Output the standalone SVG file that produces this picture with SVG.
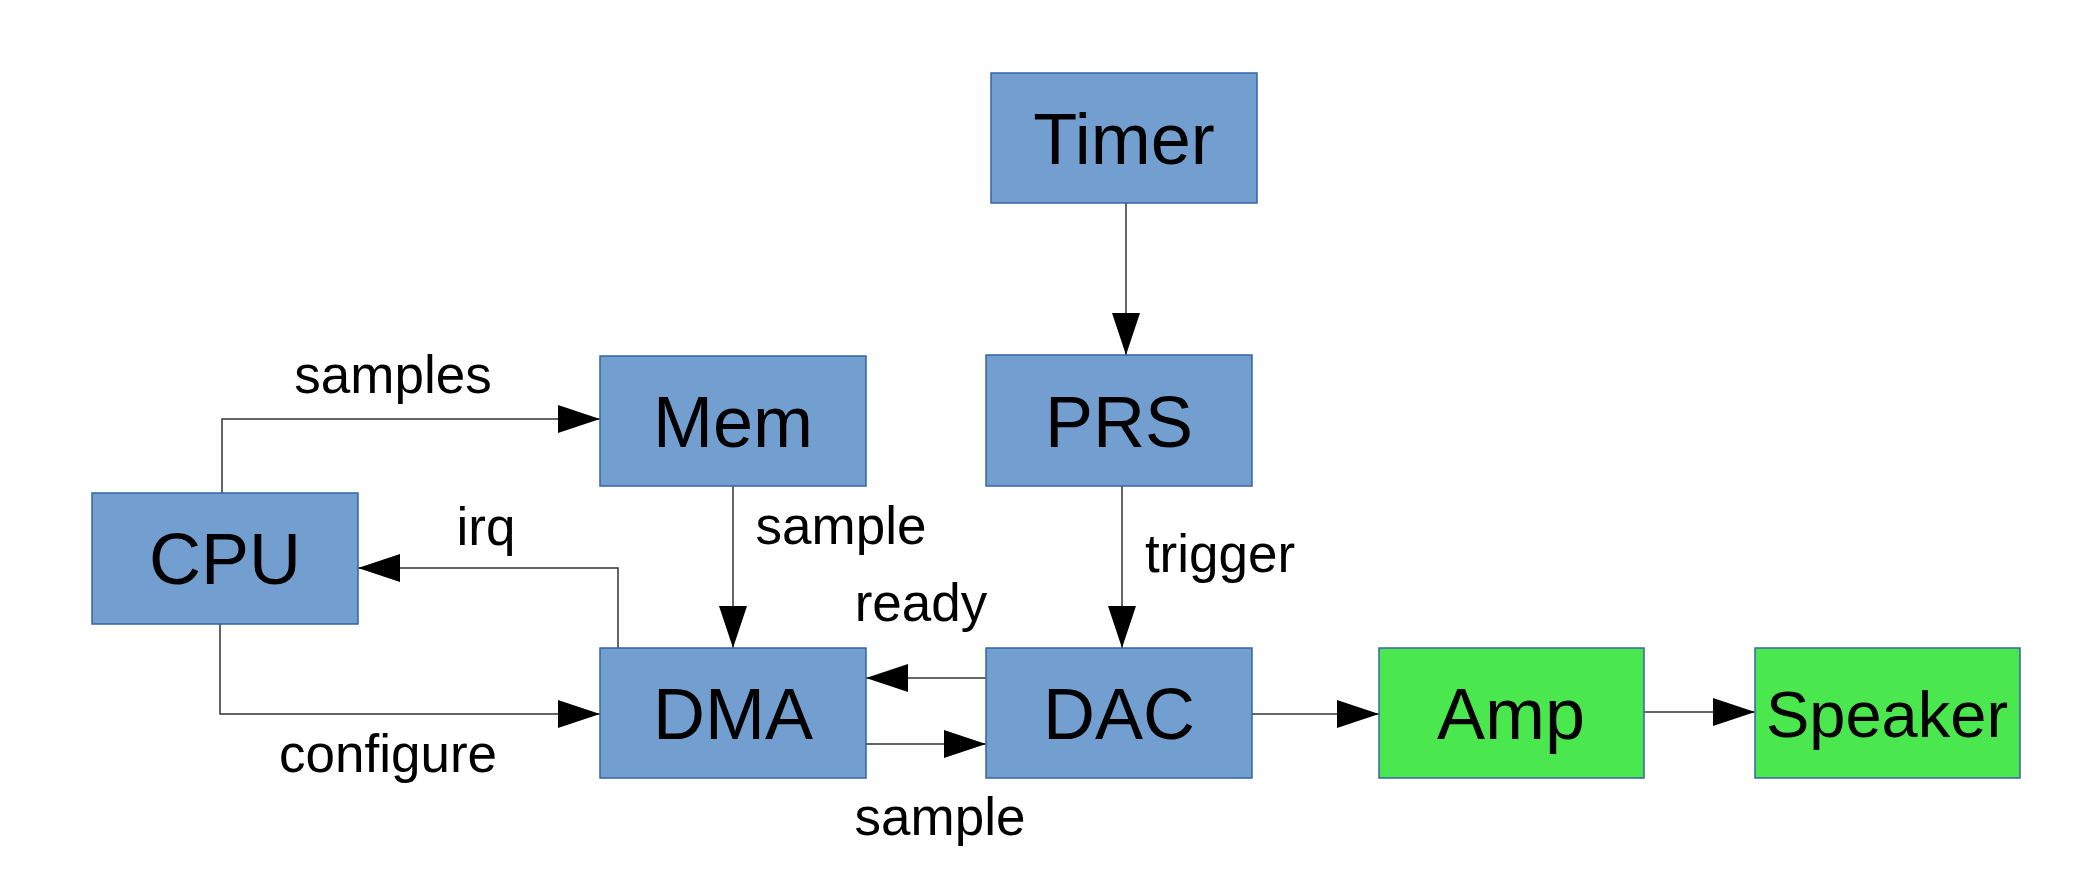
<svg xmlns="http://www.w3.org/2000/svg" width="2094" height="888" viewBox="0 0 2094 888">
<style>
.blue{fill:#729fcf;stroke:#3465a4;stroke-width:1.5}
.green{fill:#4ae84e;stroke:#3465a4;stroke-width:1.5}
.nt{font-family:"Liberation Sans",Arial,sans-serif;font-size:72px;fill:#000;text-anchor:middle}
.lt{font-family:"Liberation Sans",Arial,sans-serif;font-size:53px;fill:#000;text-anchor:middle}
.c{fill:none;stroke:#333;stroke-width:1.5}
</style>
<defs>
<marker id="ah" markerUnits="userSpaceOnUse" markerWidth="42" markerHeight="28" refX="42" refY="14" orient="auto" viewBox="0 0 42 28">
<path d="M0,0 L42,14 L0,28 z" fill="#000"/>
</marker>
</defs>
<rect width="2094" height="888" fill="#fff"/>
<g id="connectors">
<path class="c" d="M222 493 V419 H600" marker-end="url(#ah)"/>
<path class="c" d="M220 624 V714 H600" marker-end="url(#ah)"/>
<path class="c" d="M618 648 V568 H358" marker-end="url(#ah)"/>
<path class="c" d="M733 486 V648" marker-end="url(#ah)"/>
<path class="c" d="M986 678 H866" marker-end="url(#ah)"/>
<path class="c" d="M866 744 H986" marker-end="url(#ah)"/>
<path class="c" d="M1126 203 V355" marker-end="url(#ah)"/>
<path class="c" d="M1122 486 V648" marker-end="url(#ah)"/>
<path class="c" d="M1252 714 H1379" marker-end="url(#ah)"/>
<path class="c" d="M1644 712 H1755" marker-end="url(#ah)"/>
<text class="lt" x="393" y="393">samples</text>
<text class="lt" x="486" y="545">irq</text>
<text class="lt" x="388" y="772">configure</text>
<text class="lt" x="841" y="544">sample</text>
<text class="lt" x="921" y="621">ready</text>
<text class="lt" x="1220" y="572">trigger</text>
<text class="lt" x="940" y="835">sample</text>
</g>
<g id="cpu"><rect class="blue" x="92" y="493" width="266" height="131"/><text class="nt" x="225" y="584">CPU</text></g>
<g id="mem"><rect class="blue" x="600" y="356" width="266" height="130"/><text class="nt" x="733" y="447">Mem</text></g>
<g id="dma"><rect class="blue" x="600" y="648" width="266" height="130"/><text class="nt" x="733" y="739">DMA</text></g>
<g id="timer"><rect class="blue" x="991" y="73" width="266" height="130"/><text class="nt" x="1124" y="164">Timer</text></g>
<g id="prs"><rect class="blue" x="986" y="355" width="266" height="131"/><text class="nt" x="1119" y="447">PRS</text></g>
<g id="dac"><rect class="blue" x="986" y="648" width="266" height="130"/><text class="nt" x="1119" y="739">DAC</text></g>
<g id="amp"><rect class="green" x="1379" y="648" width="265" height="130"/><text class="nt" x="1511" y="739">Amp</text></g>
<g id="speaker"><rect class="green" x="1755" y="648" width="265" height="130"/><text class="nt" x="1887" y="737" style="font-size:65px">Speaker</text></g>
</svg>
